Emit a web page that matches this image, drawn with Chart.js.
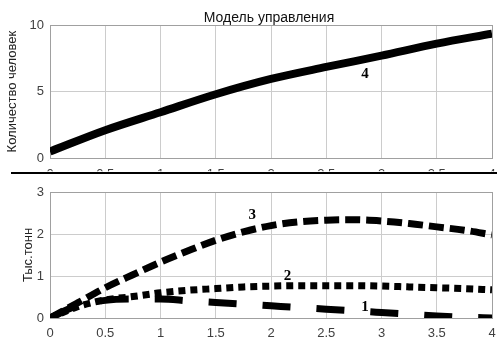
<!DOCTYPE html>
<html>
<head>
<meta charset="utf-8">
<script src="https://cdn.jsdelivr.net/npm/chart.js@4/dist/chart.umd.min.js"></script>
<style>
    body { margin: 0; background: #fff; width: 497px; height: 340px; overflow: hidden; position: relative; }
    #topChart { position: absolute; left: 0; top: 0; }
    #bottomChart { position: absolute; left: 0; top: 175px; }
    #divider { position: absolute; left: 11px; top: 172px; width: 486px; height: 2px; background: #000; }
</style>
</head>
<body>
<canvas id="topChart" width="497" height="172"></canvas>
<div id="divider"></div>
<canvas id="bottomChart" width="497" height="165"></canvas>
<script>
// Top panel: curve 4
const xTop = [0, 0.5, 1, 1.5, 2, 2.5, 3, 3.5, 4];
const curve4 = [0.5, 2.1, 3.45, 4.8, 5.95, 6.85, 7.7, 8.6, 9.35];

// Bottom panel: curves 1-3
const xBottom = [0, 0.25, 0.5, 0.75, 1, 1.25, 1.5, 1.75, 2, 2.25, 2.5, 2.75, 3, 3.25, 3.5, 3.75, 4];
const curve1 = [0, 0.3, 0.42, 0.45, 0.45, 0.41, 0.37, 0.33, 0.29, 0.25, 0.21, 0.17, 0.13, 0.09, 0.05, 0.02, 0];
const curve2 = [0, 0.27, 0.43, 0.51, 0.6, 0.66, 0.7, 0.74, 0.76, 0.77, 0.77, 0.77, 0.76, 0.74, 0.72, 0.7, 0.67];
const curve3 = [0, 0.36, 0.72, 1.03, 1.33, 1.6, 1.85, 2.05, 2.2, 2.29, 2.33, 2.34, 2.31, 2.25, 2.17, 2.09, 1.98];

const titleText = "Модель управления";
const topYLabel = "Количество человек";
const bottomYLabel = "Тыс.тонн";
const curveLabels = [
    { chart: "top", text: "4", x: 2.85, y: 6.3 },
    { chart: "bottom", text: "3", x: 1.83, y: 2.45 },
    { chart: "bottom", text: "2", x: 2.15, y: 1.0 },
    { chart: "bottom", text: "1", x: 2.85, y: 0.25 }
];

function toPoints(xs, ys) {
    return xs.map((x, i) => ({ x: x, y: ys[i] }));
}

const fontFamily = "'Liberation Sans', Arial, sans-serif";
const tickColor = "#404040";
const gridColor = "#cccccc";
const borderColor = "#a0a0a0";

function labelPlugin(name) {
    return {
        id: "labels_" + name,
        beforeDatasetsDraw(chart) {
            // box around the plot area, like the original
            const a = chart.chartArea;
            const ctx = chart.ctx;
            ctx.save();
            ctx.strokeStyle = borderColor;
            ctx.lineWidth = 1;
            ctx.strokeRect(Math.round(a.left) + 0.5, Math.round(a.top) + 0.5,
                Math.round(a.right - a.left), Math.round(a.bottom - a.top));
            ctx.restore();
        },
        afterDatasetsDraw(chart) {
            const ctx = chart.ctx;
            ctx.save();
            ctx.fillStyle = "#000";
            ctx.font = "bold 15px 'Liberation Serif', serif";
            ctx.textAlign = "center";
            ctx.textBaseline = "middle";
            curveLabels.filter(l => l.chart === name).forEach(l => {
                ctx.fillText(l.text, chart.scales.x.getPixelForValue(l.x), chart.scales.y.getPixelForValue(l.y));
            });
            if (name === "top") {
                ctx.fillStyle = "#111";
                ctx.font = "14px " + fontFamily;
                ctx.textBaseline = "alphabetic";
                ctx.fillText(titleText, 269, 22);
            }
            ctx.restore();
        }
    };
}

function xScale(height, pad) {
    return {
        type: "linear",
        min: 0,
        max: 4,
        ticks: {
            stepSize: 0.5,
            color: tickColor,
            padding: pad,
            maxRotation: 0,
            font: { family: fontFamily, size: 13 },
            callback: v => String(v)
        },
        grid: { color: gridColor, drawTicks: false },
        border: { color: borderColor },
        afterFit(scale) {
            scale.height = height;
            scale.paddingLeft = 0;
            scale.paddingRight = 0;
        }
    };
}

function yScale(max, step, title, titlePad) {
    return {
        type: "linear",
        min: 0,
        max: max,
        ticks: {
            stepSize: step,
            color: tickColor,
            padding: 6,
            font: { family: fontFamily, size: 13 }
        },
        grid: { color: gridColor, drawTicks: false },
        border: { color: borderColor },
        title: {
            display: true,
            text: title,
            color: "#222",
            padding: titlePad,
            font: { family: fontFamily, size: 13 }
        },
        afterFit(scale) { scale.width = 50; }
    };
}

new Chart(document.getElementById("topChart"), {
    type: "line",
    data: {
        datasets: [{
            data: toPoints(xTop, curve4),
            borderColor: "#000",
            borderWidth: 8,
            pointRadius: 0,
            cubicInterpolationMode: "monotone"
        }]
    },
    options: {
        responsive: false,
        animation: false,
        events: [],
        layout: { padding: { top: 25, right: 5, left: 0, bottom: 0 } },
        plugins: { legend: { display: false }, tooltip: { enabled: false } },
        scales: {
            x: xScale(13, 8),
            y: yScale(10, 5, topYLabel, { top: 5, bottom: 0 })
        }
    },
    plugins: [labelPlugin("top")]
});

new Chart(document.getElementById("bottomChart"), {
    type: "line",
    data: {
        datasets: [
            {
                data: toPoints(xBottom, curve1),
                borderColor: "#000",
                borderWidth: 7,
                borderDash: [28, 26],
                borderCapStyle: "butt",
                pointRadius: 0,
                cubicInterpolationMode: "monotone"
            },
            {
                data: toPoints(xBottom, curve2),
                borderColor: "#000",
                borderWidth: 7,
                borderDash: [7, 5],
                borderCapStyle: "butt",
                pointRadius: 0,
                cubicInterpolationMode: "monotone"
            },
            {
                data: toPoints(xBottom, curve3),
                borderColor: "#000",
                borderWidth: 7,
                borderDash: [15, 6],
                borderCapStyle: "butt",
                pointRadius: 0,
                cubicInterpolationMode: "monotone"
            }
        ]
    },
    options: {
        responsive: false,
        animation: false,
        events: [],
        layout: { padding: { top: 17, right: 5, left: 0, bottom: 0 } },
        plugins: { legend: { display: false }, tooltip: { enabled: false } },
        scales: {
            x: xScale(22, 8),
            y: yScale(3, 1, bottomYLabel, { top: 21, bottom: 0 })
        }
    },
    plugins: [labelPlugin("bottom")]
});
</script>
</body>
</html>
